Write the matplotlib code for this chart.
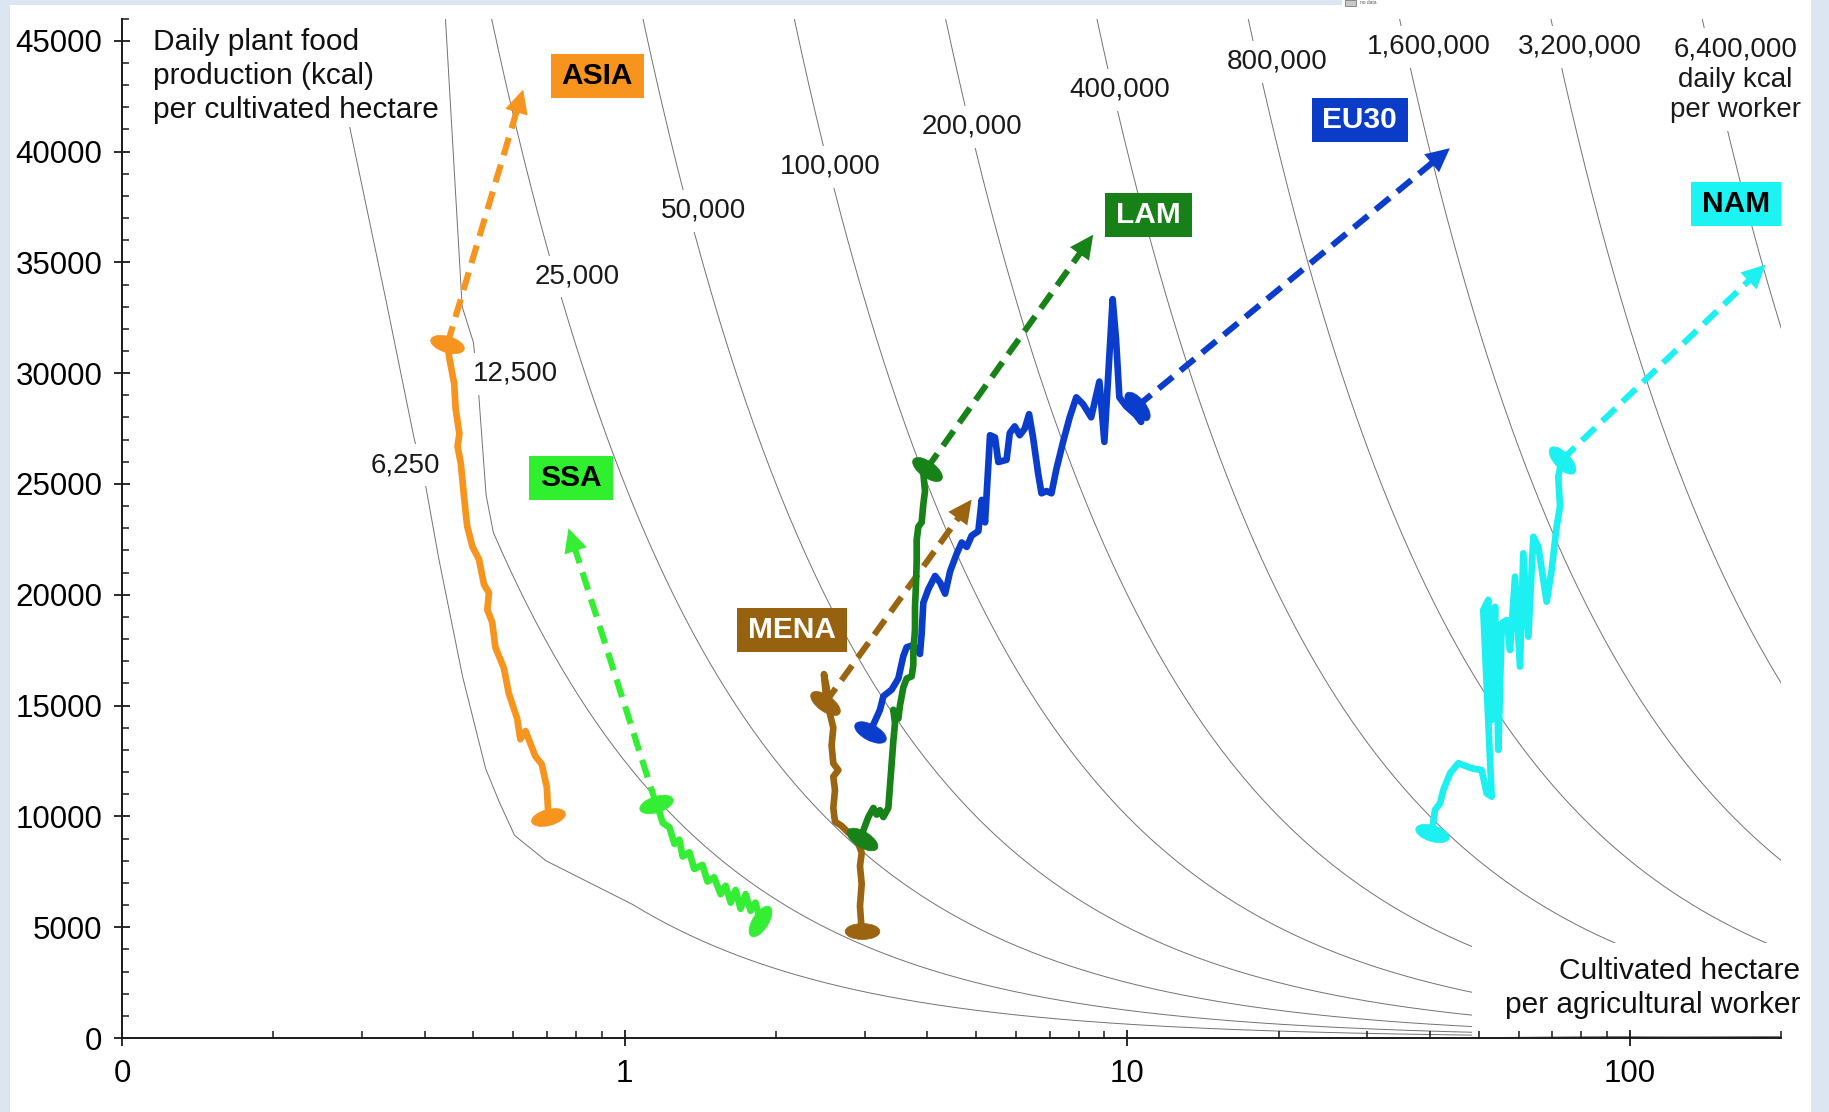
import numpy as np
import matplotlib
matplotlib.use("Agg")
import matplotlib.pyplot as plt
from matplotlib.path import Path
from matplotlib.markers import MarkerStyle
from matplotlib.transforms import Affine2D, IdentityTransform
from matplotlib.patches import Rectangle
from matplotlib.ticker import FixedLocator, FixedFormatter, NullFormatter

plt.rcParams["font.family"] = ["Liberation Sans", "DejaVu Sans"]

# ---------------------------------------------------------------------------
# Data: cultivated hectares per agricultural worker (x) versus daily plant
# food production in kcal per cultivated hectare (y), by world region.
# ---------------------------------------------------------------------------
asia_x = [0.705, 0.700, 0.684, 0.664, 0.635, 0.620, 0.611, 0.588, 0.575, 0.553,
          0.545, 0.533, 0.537, 0.525, 0.513, 0.498, 0.486, 0.479, 0.472, 0.465,
          0.469, 0.461, 0.458, 0.448, 0.444]
asia_y = [9990, 11310, 12350, 12720, 13850, 13480, 14420, 15550, 16690, 17630,
          18760, 19330, 20090, 20460, 21600, 22160, 23100, 24430, 25940, 26700,
          27260, 28390, 29530, 30660, 31320]

ssa_x = [1.862, 1.820, 1.780, 1.740, 1.700, 1.662, 1.625, 1.588, 1.552, 1.506,
         1.461, 1.428, 1.375, 1.345, 1.304, 1.284, 1.256, 1.227, 1.191, 1.173, 1.155]
ssa_y = [5270, 6110, 5740, 6490, 5830, 6680, 6110, 6870, 6490, 7250,
         7060, 7810, 7630, 8380, 8190, 8950, 8760, 9510, 9700, 10170, 10550]

mena_x = [2.961, 2.938, 2.961, 2.938, 2.961, 2.916, 2.871, 2.785, 2.701, 2.620,
          2.600, 2.620, 2.600, 2.661, 2.600, 2.580, 2.600, 2.561, 2.541, 2.522,
          2.491, 2.514, 2.503]
mena_y = [4840, 5950, 6950, 7760, 8360, 8770, 9070, 9270, 9570, 9770,
          10380, 11180, 11790, 12090, 12390, 13200, 14000, 14610, 15210, 15820,
          16420, 15420, 15110]

lam_x = [2.961, 2.984, 3.053, 3.124, 3.171, 3.220, 3.270, 3.345, 3.371, 3.397,
         3.423, 3.449, 3.423, 3.502, 3.529, 3.583, 3.638, 3.723, 3.751, 3.751,
         3.780, 3.780, 3.797, 3.809, 3.809, 3.838, 3.897, 3.927, 3.957, 3.927, 3.988]
lam_y = [8970, 9370, 9970, 10380, 10080, 10280, 9970, 10380, 11390, 12390,
         13400, 14210, 14810, 14410, 15010, 15820, 16220, 16320, 16820, 17430,
         18430, 19450, 20450, 21460, 22460, 23070, 23270, 24080, 24680, 25490, 25690]

eu30_x = [3.075, 3.220, 3.270, 3.397, 3.502, 3.583, 3.638, 3.751, 3.867, 3.897,
          3.927, 4.018, 4.145, 4.241, 4.339, 4.440, 4.577, 4.683, 4.791, 4.902,
          5.053, 5.131, 5.210, 5.290, 5.330, 5.453, 5.537, 5.749, 5.835, 5.969,
          6.107, 6.249, 6.374, 6.492, 6.643, 6.747, 6.903, 7.063, 7.227, 7.449,
          7.678, 7.913, 8.157, 8.471, 8.797, 8.999, 9.348, 9.493, 9.640, 9.938,
          10.40, 10.65]
eu30_y = [13800, 14810, 15420, 15720, 16220, 17230, 17630, 17730, 17330, 18240,
          19640, 20250, 20850, 20550, 20050, 21060, 21860, 22360, 22160, 22670,
          22870, 24280, 23270, 25890, 27200, 27100, 25990, 26090, 27300, 27600,
          27200, 27500, 28150, 27100, 25490, 24580, 24680, 24580, 25690, 26900,
          28010, 28910, 28610, 28010, 29620, 26900, 33340, 31530, 28910, 28510,
          28110, 27800]

nam_x = [40.30, 40.92, 41.87, 42.51, 43.83, 45.53, 48.40, 50.67, 51.85, 53.05,
         51.05, 52.24, 53.05, 53.87, 54.70, 55.55, 56.83, 57.70, 59.04, 60.39,
         61.32, 62.75, 64.20, 65.69, 68.23, 69.82, 71.43, 72.54, 71.98, 73.10]
nam_y = [9240, 10290, 10590, 11190, 11940, 12400, 12170, 12090, 11040, 10890,
         19310, 19770, 14350, 19460, 13000, 18710, 18860, 17510, 20820, 16760,
         21870, 18110, 22620, 22170, 19690, 21120, 23070, 23980, 25330, 26080]

# Projected paths (start, end) for each region
asia_proj_x, asia_proj_y = [0.444, 0.628], [31320, 42800]
ssa_proj_x, ssa_proj_y = [1.155, 0.773], [10550, 23000]
mena_proj_x, mena_proj_y = [2.503, 4.90], [15110, 24300]
lam_proj_x, lam_proj_y = [3.988, 8.55], [25690, 36250]
eu30_proj_x, eu30_proj_y = [10.45, 43.8], [28500, 40150]
nam_proj_x, nam_proj_y = [73.10, 186.0], [26080, 34900]

# Iso-lines of daily kcal per agricultural worker
iso_kcal = [6250, 12500, 25000, 50000, 100000, 200000, 400000, 800000,
            1600000, 3200000, 6400000]
iso_text = ["6,250", "12,500", "25,000", "50,000", "100,000", "200,000",
            "400,000", "800,000", "1,600,000", "3,200,000",
            "6,400,000\ndaily kcal\nper worker"]
iso_text_x = [0.367, 0.607, 0.805, 1.434, 2.567, 4.90, 9.66, 19.87, 39.8, 79.6, 162.0]
iso_text_y = [25850, 29970, 34360, 37320, 39310, 41110, 42790, 44050, 44730, 44730, 43250]

# The two lowest iso-lines bend near the top of the chart; their upper
# sections are given point by point and join the hyperbola further down.
bend_6250_x = [0.262, 0.284, 0.335, 0.381, 0.402, 0.427, 0.476, 0.529, 0.563,
               0.604, 0.697, 1.02]
bend_6250_y = [45000, 41070, 33300, 27080, 24900, 21600, 16300, 12150, 10650,
               9140, 8000, 6110]
bend_12500_x = [0.440, 0.475, 0.500, 0.512, 0.530]
bend_12500_y = [46000, 33000, 31400, 29150, 24500]

# Axis ticks
x_major = [0.1, 1, 10, 100]
x_major_labels = ["0", "1", "10", "100"]
x_minor = [0.2, 0.3, 0.4, 0.5, 0.6, 0.7, 0.8, 0.9, 2, 3, 4, 5, 6, 7, 8, 9,
           20, 30, 40, 50, 60, 70, 80, 90, 200]
y_major = list(range(0, 45001, 5000))
y_minor = list(range(0, 46001, 1000))

# Region styling and label placement
regions = [
    dict(name="ASIA", x=asia_x, y=asia_y, px=asia_proj_x, py=asia_proj_y,
         color="#F7941D", box="#F7941D", tc="black", lx=0.882, ly=43420),
    dict(name="SSA", x=ssa_x, y=ssa_y, px=ssa_proj_x, py=ssa_proj_y,
         color="#33EE33", box="#2FEF2F", tc="black", lx=0.782, ly=25270),
    dict(name="MENA", x=mena_x, y=mena_y, px=mena_proj_x, py=mena_proj_y,
         color="#9B6411", box="#97620F", tc="white", lx=2.152, ly=18410),
    dict(name="EU30", x=eu30_x, y=eu30_y, px=eu30_proj_x, py=eu30_proj_y,
         color="#0B3DCC", box="#0A3CC8", tc="white", lx=29.0, ly=41430),
    dict(name="LAM", x=lam_x, y=lam_y, px=lam_proj_x, py=lam_proj_y,
         color="#178217", box="#178017", tc="white", lx=11.01, ly=37130),
    dict(name="NAM", x=nam_x, y=nam_y, px=nam_proj_x, py=nam_proj_y,
         color="#1CF0F0", box="#1CF4F4", tc="black", lx=162.3, ly=37640),
]

# ---------------------------------------------------------------------------
W, H = 1829, 1112
X_MIN, X_MAX, Y_MAX = 0.1, 200, 46000

fig = plt.figure(figsize=(W / 100, H / 100), dpi=100, facecolor="white")
ax = fig.add_axes([122 / W, 74 / H, 1659.4 / W, 1019.4 / H])
ax.set_xscale("log")
ax.set_xlim(X_MIN, X_MAX)
ax.set_ylim(0, Y_MAX)
ax.set_facecolor("white")
ax.set_axisbelow(False)

for s in ("top", "right"):
    ax.spines[s].set_visible(False)
for s in ("left", "bottom"):
    ax.spines[s].set_linewidth(1.4)
    ax.spines[s].set_color("#1a1a1a")

ax.xaxis.set_major_locator(FixedLocator(x_major))
ax.xaxis.set_major_formatter(FixedFormatter(x_major_labels))
ax.xaxis.set_minor_locator(FixedLocator(x_minor))
ax.xaxis.set_minor_formatter(NullFormatter())
ax.yaxis.set_major_locator(FixedLocator(y_major))
ax.yaxis.set_major_formatter(FixedFormatter([str(v) for v in y_major]))
ax.yaxis.set_minor_locator(FixedLocator(y_minor))
ax.yaxis.set_minor_formatter(NullFormatter())
ax.tick_params(which="major", direction="inout", length=12, width=1.3,
               color="#1a1a1a", labelsize=22.5, labelcolor="black")
ax.tick_params(which="minor", direction="in", length=5, width=1.1, color="#1a1a1a")
ax.tick_params(axis="x", which="major", pad=9)
ax.tick_params(axis="y", which="major", pad=8)


def padded_box(px, py):
    """Rectangular text box with separate horizontal and vertical padding."""
    def box(x0, y0, width, height, mutation_size):
        dx, dy = px * mutation_size, py * mutation_size
        verts = [(x0 - dx, y0 - dy), (x0 + width + dx, y0 - dy),
                 (x0 + width + dx, y0 + height + dy), (x0 - dx, y0 + height + dy),
                 (x0 - dx, y0 - dy)]
        return Path(verts, closed=True)
    return box


# Iso-lines of constant daily kcal per worker
for c in iso_kcal:
    if c == 6250:
        tail = np.geomspace(bend_6250_x[-1], X_MAX, 300)[1:]
        xs = list(bend_6250_x) + list(tail)
        ys = list(bend_6250_y) + list(c / tail)
    elif c == 12500:
        tail = np.geomspace(0.548, X_MAX, 300)
        xs = list(bend_12500_x) + list(tail)
        ys = list(bend_12500_y) + list(c / tail)
    else:
        xs = np.geomspace(c / Y_MAX, X_MAX, 400)
        ys = c / xs
    ax.plot(xs, ys, color="#727272", lw=0.7, zorder=1.0)

# Iso-line value labels (white boxes interrupt the lines)
for txt, lx, ly in zip(iso_text, iso_text_x, iso_text_y):
    ax.text(lx, ly, txt, ha="center", va="center", fontsize=20, color="#1a1a1a",
            linespacing=1.22, zorder=3,
            bbox=dict(boxstyle=padded_box(0.22, 0.28), fc="white", ec="none"))

# White panel behind the x-axis title in the lower right corner
ax.add_patch(Rectangle((1472, H - 1036), 345, 93, transform=IdentityTransform(),
                       fc="white", ec="none", zorder=1.2))


def start_oval(x0, y0, x1, y1, color, size=25, ratio=0.46, z=5):
    p0 = ax.transData.transform((x0, y0))
    p1 = ax.transData.transform((x1, y1))
    ang = np.degrees(np.arctan2(p1[1] - p0[1], p1[0] - p0[0]))
    base = Path.unit_circle().transformed(Affine2D().scale(1.0, ratio))
    ms = MarkerStyle(base, transform=Affine2D().rotate_deg(ang + 90))
    ax.plot([x0], [y0], linestyle="none", marker=ms, markersize=size,
            color=color, markeredgewidth=0.5, zorder=z)


def dashed_arrow(xs, ys, color):
    p0 = ax.transData.transform((xs[0], ys[0]))
    p1 = ax.transData.transform((xs[1], ys[1]))
    d = (p1 - p0) / np.hypot(*(p1 - p0))
    stop = ax.transData.inverted().transform(p1 - d * 14)
    ax.plot([xs[0], stop[0]], [ys[0], stop[1]], color=color, lw=4.4,
            linestyle=(0, (3.0, 1.6)), dash_capstyle="butt", zorder=4)
    ax.annotate("", xy=(xs[1], ys[1]), xytext=(-d[0] * 30, -d[1] * 30),
                textcoords="offset pixels", zorder=6,
                arrowprops=dict(arrowstyle="-|>,head_length=0.85,head_width=0.42",
                                mutation_scale=20, fc=color, ec="none", lw=0,
                                shrinkA=0, shrinkB=0))
    start_oval(xs[0], ys[0], xs[1], ys[1], color)


for r in regions:
    ax.plot(r["x"], r["y"], color=r["color"], lw=4.8, solid_joinstyle="round",
            solid_capstyle="round", zorder=4)
    # the start oval sits across the initial heading of the path
    start_oval(r["x"][0], r["y"][0], r["x"][4], r["y"][4], r["color"])
    dashed_arrow(r["px"], r["py"], r["color"])
    ax.text(r["lx"], r["ly"], r["name"], ha="center", va="center", fontsize=21.5,
            fontweight="bold", color=r["tc"], zorder=7,
            bbox=dict(boxstyle=padded_box(0.36, 0.26), fc=r["box"], ec="none"))

# Axis titles placed inside the plot
ax.text(0.1153, 45560, "Daily plant food\nproduction (kcal)\nper cultivated hectare",
        ha="left", va="top", fontsize=21.5, color="#111111", linespacing=1.27,
        zorder=3, bbox=dict(boxstyle=padded_box(0.05, 0.08), fc="white", ec="none"))
fig.text(1800 / W, 1 - 988 / H, "Cultivated hectare\nper agricultural worker",
         ha="right", va="center", multialignment="right", fontsize=21.5,
         color="#111111", linespacing=1.25)

# Light blue frame strips around the canvas
frame = "#DCE6F2"
fig.add_artist(Rectangle((0, 0), 10 / W, 1, transform=fig.transFigure,
                         fc=frame, ec="none", zorder=10))
fig.add_artist(Rectangle((0, 1 - 5 / H), 1342 / W, 5 / H, transform=fig.transFigure,
                         fc=frame, ec="none", zorder=10))
fig.add_artist(Rectangle((1811 / W, 0), 18 / W, 1, transform=fig.transFigure,
                         fc=frame, ec="none", zorder=10))
fig.add_artist(Rectangle((1345 / W, 1 - 6 / H), 11 / W, 6 / H, transform=fig.transFigure,
                         fc="#c8c8c8", ec="#7a7a7a", lw=0.6, zorder=10))
fig.text(1360 / W, 1 - 3 / H, "no data", fontsize=3.5, color="#555555",
         va="center", ha="left")

fig.savefig("out.png", dpi=100, facecolor="white")
